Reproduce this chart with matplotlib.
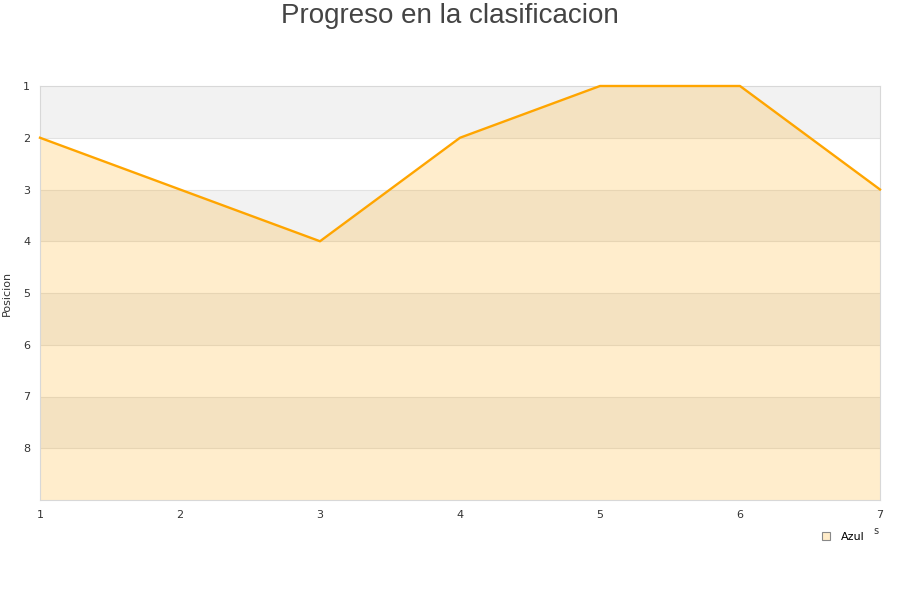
import matplotlib
matplotlib.use('Agg')
import matplotlib.pyplot as plt
from matplotlib.lines import Line2D

# jornadas y posiciones
jornadas = [1, 2, 3, 4, 5, 6, 7]
posicion = [2, 3, 4, 2, 1, 1, 3]
yticks = [1, 2, 3, 4, 5, 6, 7, 8]
serie = 'Azul'

fig = plt.figure(figsize=(9, 6), dpi=100)
ax = fig.add_axes([40/900, 100/600, 840/900, 414/600])

# bandas alternas
for k in range(1, 9):
    if k % 2 == 1:
        ax.axhspan(k, k + 1, color='#f2f2f2', lw=0, zorder=0)
for k in range(2, 9):
    ax.axhline(k, color='#e2e2e2', lw=0.8, zorder=0.5)

ax.fill_between(jornadas, posicion, 9, color='#ffa500', alpha=0.2, lw=0, zorder=1)
ax.plot(jornadas, posicion, color='#ffa500', lw=1.7, zorder=3, clip_on=False)

ax.set_xlim(1, 7)
ax.set_ylim(9, 1)
ax.set_yticks(yticks)
ax.set_xticks(jornadas)
ax.tick_params(length=0, labelsize=8, colors='#333333')
ax.tick_params(axis='x', pad=7)
ax.tick_params(axis='y', pad=7)
for s in ax.spines.values():
    s.set_color('#d8d8d8')
    s.set_linewidth(0.8)
ax.set_ylabel('Posicion', fontsize=8, color='#333333', labelpad=8)

fig.text(0.5, 1 - 16/600, 'Progreso en la clasificacion', ha='center', va='center',
         fontsize=20, color='#444444', family='Liberation Sans')

# resto del titulo del eje x, cortado como en el original
fig.text(876/900, 1 - 531/600, 's', ha='center', va='center', fontsize=7, color='#333333')

h = Line2D([], [], marker='s', ls='none', markersize=6,
           markerfacecolor='#ffecc9', markeredgecolor='#888888', markeredgewidth=0.8)
fig.legend([h], [serie], loc='center', bbox_to_anchor=(840/900, 1 - 537/600),
           frameon=False, fontsize=8, handletextpad=0.3)

fig.savefig('out.png', dpi=100)
